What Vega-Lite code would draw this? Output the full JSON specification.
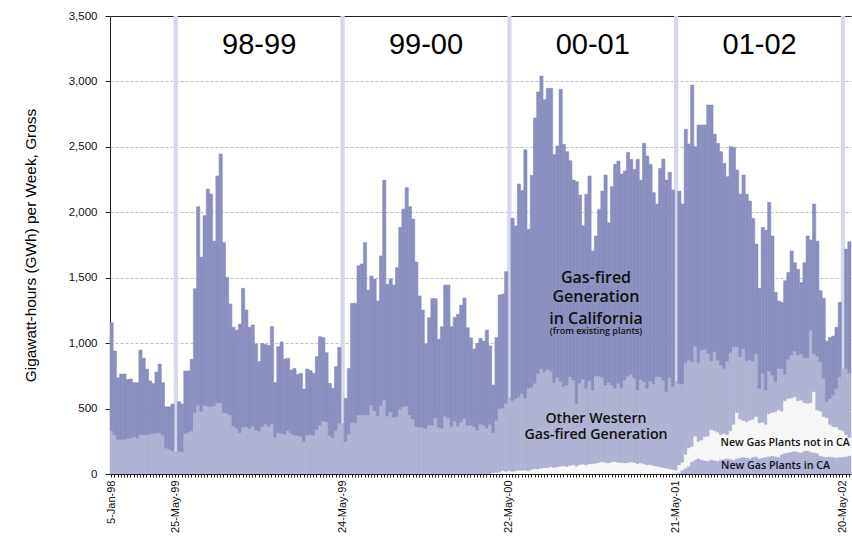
{
"$schema":"https://vega.github.io/schema/vega-lite/v6.json",
"width":741,"height":458,
"autosize":{"type":"none"},
"padding":{"left":110,"top":16,"right":1,"bottom":62},
"background":"#ffffff",
"config":{
 "view":{"stroke":null},
 "font":"Liberation Sans",
 "axis":{"labelFont":"Liberation Sans","titleFont":"Liberation Sans","domainColor":"#222","tickColor":"#222","labelColor":"#111","titleColor":"#000"}
},
"datasets":{
"sep":[{"w":"1998-05-25"},{"w":"1999-05-24"},{"w":"2000-05-22"},{"w":"2001-05-21"},{"w":"2002-05-20"}],
"ann":[
{"g":"yr","w":"1998-11-23","v":3210,"t":"98-99"},
{"g":"yr","w":"1999-11-22","v":3210,"t":"99-00"},
{"g":"yr","w":"2000-11-20","v":3210,"t":"00-01"},
{"g":"yr","w":"2001-11-19","v":3210,"t":"01-02"},
{"g":"big","w":"2000-11-27","v":1457,"t":"Gas-fired"},
{"g":"big","w":"2000-11-27","v":1317,"t":"Generation"},
{"g":"big","w":"2000-11-27","v":1148,"t":"in California"},
{"g":"small","w":"2000-11-27","v":1072,"t":"(from existing plants)"},
{"g":"mid","w":"2000-11-27","v":392,"t":"Other Western"},
{"g":"mid","w":"2000-11-27","v":265,"t":"Gas-fired Generation"},
{"g":"new","w":"2002-01-14","v":214,"t":"New Gas Plants not in CA"},
{"g":"new","w":"2001-12-24","v":38,"t":"New Gas Plants in CA"}
],
"gen":[
{"w":"1998-01-05","c_other":330,"d_ca":826},
{"w":"1998-01-12","c_other":300,"d_ca":640},
{"w":"1998-01-19","c_other":265,"d_ca":471},
{"w":"1998-01-26","c_other":265,"d_ca":499},
{"w":"1998-02-02","c_other":265,"d_ca":499},
{"w":"1998-02-09","c_other":270,"d_ca":451},
{"w":"1998-02-16","c_other":275,"d_ca":451},
{"w":"1998-02-23","c_other":285,"d_ca":413},
{"w":"1998-03-02","c_other":275,"d_ca":423},
{"w":"1998-03-09","c_other":300,"d_ca":647},
{"w":"1998-03-16","c_other":300,"d_ca":584},
{"w":"1998-03-23","c_other":300,"d_ca":502},
{"w":"1998-03-30","c_other":305,"d_ca":406},
{"w":"1998-04-06","c_other":310,"d_ca":380},
{"w":"1998-04-13","c_other":315,"d_ca":464},
{"w":"1998-04-20","c_other":315,"d_ca":525},
{"w":"1998-04-27","c_other":300,"d_ca":398},
{"w":"1998-05-04","c_other":200,"d_ca":314},
{"w":"1998-05-11","c_other":190,"d_ca":324},
{"w":"1998-05-18","c_other":180,"d_ca":355},
{"w":"1998-05-25","c_other":170},
{"w":"1998-06-01","c_other":175,"d_ca":378},
{"w":"1998-06-08","c_other":170,"d_ca":365},
{"w":"1998-06-15","c_other":310,"d_ca":477},
{"w":"1998-06-22","c_other":320,"d_ca":467},
{"w":"1998-06-29","c_other":330,"d_ca":546},
{"w":"1998-07-06","c_other":470,"d_ca":946},
{"w":"1998-07-13","c_other":525,"d_ca":1518},
{"w":"1998-07-20","c_other":480,"d_ca":1178},
{"w":"1998-07-27","c_other":525,"d_ca":1449},
{"w":"1998-08-03","c_other":520,"d_ca":1658},
{"w":"1998-08-10","c_other":515,"d_ca":1624},
{"w":"1998-08-17","c_other":520,"d_ca":1260},
{"w":"1998-08-24","c_other":545,"d_ca":1732},
{"w":"1998-08-31","c_other":545,"d_ca":1900},
{"w":"1998-09-07","c_other":470,"d_ca":1298},
{"w":"1998-09-14","c_other":463,"d_ca":1040},
{"w":"1998-09-21","c_other":450,"d_ca":849},
{"w":"1998-09-28","c_other":367,"d_ca":754},
{"w":"1998-10-05","c_other":349,"d_ca":751},
{"w":"1998-10-12","c_other":316,"d_ca":830},
{"w":"1998-10-19","c_other":357,"d_ca":1062},
{"w":"1998-10-26","c_other":362,"d_ca":891},
{"w":"1998-11-02","c_other":349,"d_ca":772},
{"w":"1998-11-09","c_other":367,"d_ca":772},
{"w":"1998-11-16","c_other":337,"d_ca":656},
{"w":"1998-11-23","c_other":329,"d_ca":531},
{"w":"1998-11-30","c_other":362,"d_ca":636},
{"w":"1998-12-07","c_other":382,"d_ca":608},
{"w":"1998-12-14","c_other":362,"d_ca":621},
{"w":"1998-12-21","c_other":382,"d_ca":744},
{"w":"1998-12-28","c_other":280,"d_ca":418},
{"w":"1999-01-04","c_other":316,"d_ca":657},
{"w":"1999-01-11","c_other":311,"d_ca":698},
{"w":"1999-01-18","c_other":303,"d_ca":576},
{"w":"1999-01-25","c_other":331,"d_ca":553},
{"w":"1999-02-01","c_other":311,"d_ca":484},
{"w":"1999-02-08","c_other":298,"d_ca":509},
{"w":"1999-02-15","c_other":295,"d_ca":467},
{"w":"1999-02-22","c_other":290,"d_ca":479},
{"w":"1999-03-01","c_other":247,"d_ca":402},
{"w":"1999-03-08","c_other":298,"d_ca":504},
{"w":"1999-03-15","c_other":303,"d_ca":487},
{"w":"1999-03-22","c_other":298,"d_ca":471},
{"w":"1999-03-29","c_other":341,"d_ca":556},
{"w":"1999-04-05","c_other":374,"d_ca":675},
{"w":"1999-04-12","c_other":405,"d_ca":637},
{"w":"1999-04-19","c_other":400,"d_ca":527},
{"w":"1999-04-26","c_other":293,"d_ca":400},
{"w":"1999-05-03","c_other":278,"d_ca":377},
{"w":"1999-05-10","c_other":331,"d_ca":489},
{"w":"1999-05-17","c_other":390,"d_ca":578},
{"w":"1999-05-24","c_other":385},
{"w":"1999-05-31","c_other":247,"d_ca":331},
{"w":"1999-06-07","c_other":306,"d_ca":501},
{"w":"1999-06-14","c_other":392,"d_ca":912},
{"w":"1999-06-21","c_other":392,"d_ca":912},
{"w":"1999-06-28","c_other":451,"d_ca":1141},
{"w":"1999-07-05","c_other":451,"d_ca":1154},
{"w":"1999-07-12","c_other":451,"d_ca":1317},
{"w":"1999-07-19","c_other":451,"d_ca":955},
{"w":"1999-07-26","c_other":527,"d_ca":986},
{"w":"1999-08-02","c_other":484,"d_ca":1006},
{"w":"1999-08-09","c_other":443,"d_ca":879},
{"w":"1999-08-16","c_other":520,"d_ca":1146},
{"w":"1999-08-23","c_other":565,"d_ca":1681},
{"w":"1999-08-30","c_other":443,"d_ca":1006},
{"w":"1999-09-06","c_other":476,"d_ca":1014},
{"w":"1999-09-13","c_other":433,"d_ca":1011},
{"w":"1999-09-20","c_other":438,"d_ca":1139},
{"w":"1999-09-27","c_other":494,"d_ca":1391},
{"w":"1999-10-04","c_other":514,"d_ca":1511},
{"w":"1999-10-11","c_other":520,"d_ca":1668},
{"w":"1999-10-18","c_other":451,"d_ca":1592},
{"w":"1999-10-25","c_other":420,"d_ca":1528},
{"w":"1999-11-01","c_other":362,"d_ca":1258},
{"w":"1999-11-08","c_other":357,"d_ca":1003},
{"w":"1999-11-15","c_other":357,"d_ca":896},
{"w":"1999-11-22","c_other":349,"d_ca":644},
{"w":"1999-11-29","c_other":374,"d_ca":821},
{"w":"1999-12-06","c_other":374,"d_ca":966},
{"w":"1999-12-13","c_other":430,"d_ca":910},
{"w":"1999-12-20","c_other":357,"d_ca":673},
{"w":"1999-12-27","c_other":349,"d_ca":777},
{"w":"2000-01-03","c_other":443,"d_ca":1001},
{"w":"2000-01-10","c_other":430,"d_ca":1014},
{"w":"2000-01-17","c_other":362,"d_ca":764},
{"w":"2000-01-24","c_other":405,"d_ca":792},
{"w":"2000-01-31","c_other":367,"d_ca":853},
{"w":"2000-02-07","c_other":395,"d_ca":896},
{"w":"2000-02-14","c_other":425,"d_ca":920},
{"w":"2000-02-21","c_other":374,"d_ca":743},
{"w":"2000-02-28","c_other":374,"d_ca":666},
{"w":"2000-03-06","c_other":362,"d_ca":593},
{"w":"2000-03-13","c_other":336,"d_ca":662},
{"w":"2000-03-20","c_other":382,"d_ca":655},
{"w":"2000-03-27","c_other":374,"d_ca":642},
{"w":"2000-04-03","c_other":350,"d_ca":750},
{"w":"2000-04-10","c_other":380,"d_ca":598},
{"w":"2000-04-17","b_newOut":10,"c_other":306,"d_ca":364},
{"w":"2000-04-24","b_newOut":12,"c_other":398,"d_ca":634},
{"w":"2000-05-01","b_newOut":15,"c_other":483,"d_ca":870},
{"w":"2000-05-08","b_newOut":25,"c_other":480,"d_ca":870},
{"w":"2000-05-15","b_newOut":20,"c_other":520,"d_ca":1006},
{"w":"2000-05-22","b_newOut":25,"c_other":553},
{"w":"2000-05-29","b_newOut":20,"c_other":540,"d_ca":1394},
{"w":"2000-06-05","b_newOut":25,"c_other":550,"d_ca":1320},
{"w":"2000-06-12","b_newOut":30,"c_other":560,"d_ca":1626},
{"w":"2000-06-19","b_newOut":28,"c_other":588,"d_ca":1549},
{"w":"2000-06-26","b_newOut":30,"c_other":548,"d_ca":1900},
{"w":"2000-07-03","b_newOut":25,"c_other":630,"d_ca":1215},
{"w":"2000-07-10","b_newOut":35,"c_other":627,"d_ca":1620},
{"w":"2000-07-17","b_newOut":40,"c_other":653,"d_ca":2027},
{"w":"2000-07-24","b_newOut":38,"c_other":731,"d_ca":2151},
{"w":"2000-07-31","b_newOut":45,"c_other":762,"d_ca":2234},
{"w":"2000-08-07","b_newOut":50,"c_other":732,"d_ca":2078},
{"w":"2000-08-14","b_newOut":48,"c_other":752,"d_ca":2147},
{"w":"2000-08-21","b_newOut":55,"c_other":732,"d_ca":2160},
{"w":"2000-08-28","b_newOut":50,"c_other":648,"d_ca":1742},
{"w":"2000-09-04","b_newOut":55,"c_other":684,"d_ca":1767},
{"w":"2000-09-11","b_newOut":60,"c_other":646,"d_ca":2234},
{"w":"2000-09-18","b_newOut":62,"c_other":605,"d_ca":1852},
{"w":"2000-09-25","b_newOut":58,"c_other":622,"d_ca":1783},
{"w":"2000-10-02","b_newOut":65,"c_other":679,"d_ca":1650},
{"w":"2000-10-09","b_newOut":70,"c_other":648,"d_ca":1528},
{"w":"2000-10-16","b_newOut":60,"c_other":480,"d_ca":1694},
{"w":"2000-10-23","b_newOut":72,"c_other":621,"d_ca":1439},
{"w":"2000-10-30","b_newOut":75,"c_other":648,"d_ca":1175},
{"w":"2000-11-06","b_newOut":70,"c_other":585,"d_ca":1482},
{"w":"2000-11-13","b_newOut":78,"c_other":635,"d_ca":1564},
{"w":"2000-11-20","b_newOut":80,"c_other":562,"d_ca":1062},
{"w":"2000-11-27","b_newOut":82,"c_other":667,"d_ca":1070},
{"w":"2000-12-04","b_newOut":88,"c_other":661,"d_ca":1273},
{"w":"2000-12-11","b_newOut":94,"c_other":646,"d_ca":1422},
{"w":"2000-12-18","b_newOut":90,"c_other":590,"d_ca":1605},
{"w":"2000-12-25","b_newOut":85,"c_other":615,"d_ca":1220},
{"w":"2001-01-01","b_newOut":92,"c_other":588,"d_ca":1516},
{"w":"2001-01-08","b_newOut":95,"c_other":560,"d_ca":1711},
{"w":"2001-01-15","b_newOut":90,"c_other":603,"d_ca":1699},
{"w":"2001-01-22","b_newOut":88,"c_other":572,"d_ca":1632},
{"w":"2001-01-29","b_newOut":85,"c_other":633,"d_ca":1597},
{"w":"2001-02-05","b_newOut":87,"c_other":662,"d_ca":1709},
{"w":"2001-02-12","b_newOut":92,"c_other":670,"d_ca":1642},
{"w":"2001-02-19","b_newOut":88,"c_other":648,"d_ca":1592},
{"w":"2001-02-26","b_newOut":80,"c_other":562,"d_ca":1762},
{"w":"2001-03-05","b_newOut":85,"c_other":638,"d_ca":1523},
{"w":"2001-03-12","b_newOut":78,"c_other":628,"d_ca":1821},
{"w":"2001-03-19","b_newOut":70,"c_other":585,"d_ca":1775},
{"w":"2001-03-26","b_newOut":72,"c_other":638,"d_ca":1656},
{"w":"2001-04-02","b_newOut":65,"c_other":625,"d_ca":1460},
{"w":"2001-04-09","b_newOut":60,"c_other":684,"d_ca":1319},
{"w":"2001-04-16","b_newOut":55,"c_other":689,"d_ca":1592},
{"w":"2001-04-23","b_newOut":50,"c_other":668,"d_ca":1689},
{"w":"2001-04-30","b_newOut":45,"c_other":584,"d_ca":1617},
{"w":"2001-05-07","b_newOut":40,"c_other":699,"d_ca":1566},
{"w":"2001-05-14","b_newOut":35,"c_other":632,"d_ca":1503},
{"w":"2001-05-21","b_newOut":30,"c_other":676},
{"w":"2001-05-28","a_newCA":10,"b_newOut":60,"c_other":623,"d_ca":1469},
{"w":"2001-06-04","a_newCA":30,"b_newOut":60,"c_other":598,"d_ca":1375},
{"w":"2001-06-11","a_newCA":45,"b_newOut":105,"c_other":701,"d_ca":1783},
{"w":"2001-06-18","a_newCA":60,"b_newOut":140,"c_other":676,"d_ca":1646},
{"w":"2001-06-25","a_newCA":95,"b_newOut":115,"c_other":648,"d_ca":2114},
{"w":"2001-07-02","a_newCA":110,"b_newOut":180,"c_other":688,"d_ca":1523},
{"w":"2001-07-09","a_newCA":120,"b_newOut":130,"c_other":601,"d_ca":1816},
{"w":"2001-07-16","a_newCA":110,"b_newOut":150,"c_other":687,"d_ca":1720},
{"w":"2001-07-23","a_newCA":105,"b_newOut":180,"c_other":668,"d_ca":1714},
{"w":"2001-07-30","a_newCA":100,"b_newOut":190,"c_other":632,"d_ca":1898},
{"w":"2001-08-06","a_newCA":110,"b_newOut":230,"c_other":526,"d_ca":1954},
{"w":"2001-08-13","a_newCA":105,"b_newOut":225,"c_other":605,"d_ca":1663},
{"w":"2001-08-20","a_newCA":100,"b_newOut":220,"c_other":551,"d_ca":1656},
{"w":"2001-08-27","a_newCA":110,"b_newOut":190,"c_other":533,"d_ca":1630},
{"w":"2001-09-03","a_newCA":115,"b_newOut":195,"c_other":497,"d_ca":1567},
{"w":"2001-09-10","a_newCA":120,"b_newOut":180,"c_other":563,"d_ca":1409},
{"w":"2001-09-17","a_newCA":115,"b_newOut":215,"c_other":597,"d_ca":1574},
{"w":"2001-09-24","a_newCA":110,"b_newOut":270,"c_other":593,"d_ca":1523},
{"w":"2001-10-01","a_newCA":120,"b_newOut":350,"c_other":503,"d_ca":1350},
{"w":"2001-10-08","a_newCA":125,"b_newOut":295,"c_other":477,"d_ca":1242},
{"w":"2001-10-15","a_newCA":130,"b_newOut":280,"c_other":550,"d_ca":1325},
{"w":"2001-10-22","a_newCA":125,"b_newOut":275,"c_other":466,"d_ca":1271},
{"w":"2001-10-29","a_newCA":120,"b_newOut":290,"c_other":466,"d_ca":1210},
{"w":"2001-11-05","a_newCA":130,"b_newOut":290,"c_other":443,"d_ca":1091},
{"w":"2001-11-12","a_newCA":135,"b_newOut":305,"c_other":480,"d_ca":837},
{"w":"2001-11-19","a_newCA":120,"b_newOut":270,"c_other":265,"d_ca":764},
{"w":"2001-11-26","a_newCA":125,"b_newOut":270,"c_other":374,"d_ca":1116},
{"w":"2001-12-03","a_newCA":130,"b_newOut":250,"c_other":262,"d_ca":1222},
{"w":"2001-12-10","a_newCA":135,"b_newOut":325,"c_other":327,"d_ca":1289},
{"w":"2001-12-17","a_newCA":140,"b_newOut":330,"c_other":286,"d_ca":1063},
{"w":"2001-12-24","a_newCA":135,"b_newOut":340,"c_other":231,"d_ca":682},
{"w":"2001-12-31","a_newCA":130,"b_newOut":360,"c_other":317,"d_ca":515},
{"w":"2002-01-07","a_newCA":150,"b_newOut":330,"c_other":327,"d_ca":505},
{"w":"2002-01-14","a_newCA":160,"b_newOut":400,"c_other":200,"d_ca":717},
{"w":"2002-01-21","a_newCA":165,"b_newOut":410,"c_other":301,"d_ca":665},
{"w":"2002-01-28","a_newCA":170,"b_newOut":410,"c_other":329,"d_ca":795},
{"w":"2002-02-04","a_newCA":175,"b_newOut":415,"c_other":350,"d_ca":675},
{"w":"2002-02-11","a_newCA":170,"b_newOut":390,"c_other":349,"d_ca":655},
{"w":"2002-02-18","a_newCA":165,"b_newOut":400,"c_other":355,"d_ca":542},
{"w":"2002-02-25","a_newCA":175,"b_newOut":370,"c_other":345,"d_ca":725},
{"w":"2002-03-04","a_newCA":180,"b_newOut":360,"c_other":350,"d_ca":929},
{"w":"2002-03-11","a_newCA":170,"b_newOut":375,"c_other":555,"d_ca":688},
{"w":"2002-03-18","a_newCA":165,"b_newOut":465,"c_other":292,"d_ca":1141},
{"w":"2002-03-25","a_newCA":160,"b_newOut":330,"c_other":410,"d_ca":880},
{"w":"2002-04-01","a_newCA":140,"b_newOut":340,"c_other":378,"d_ca":543},
{"w":"2002-04-08","a_newCA":135,"b_newOut":305,"c_other":291,"d_ca":611},
{"w":"2002-04-15","a_newCA":130,"b_newOut":300,"c_other":123,"d_ca":463},
{"w":"2002-04-22","a_newCA":135,"b_newOut":245,"c_other":198,"d_ca":466},
{"w":"2002-04-29","a_newCA":130,"b_newOut":230,"c_other":244,"d_ca":450},
{"w":"2002-05-06","a_newCA":125,"b_newOut":235,"c_other":295,"d_ca":466},
{"w":"2002-05-13","a_newCA":130,"b_newOut":210,"c_other":404,"d_ca":568},
{"w":"2002-05-20","a_newCA":130,"b_newOut":200,"c_other":477},
{"w":"2002-05-27","a_newCA":135,"b_newOut":165,"c_other":507,"d_ca":912},
{"w":"2002-06-03","a_newCA":140,"b_newOut":140,"c_other":489,"d_ca":1006}
]
},
"encoding":{
 "x":{"field":"w","type":"ordinal","scale":{"paddingInner":0,"paddingOuter":0},
  "axis":{"title":null,"labelAngle":270,"labelFontSize":11,"labelOverlap":false,"tickSize":3,"labelPadding":3,"grid":false,"zindex":1,
   "labelExpr":"datum.value=='1998-01-05'?'5-Jan-98':datum.value=='1998-05-25'?'25-May-99':datum.value=='1999-05-24'?'24-May-99':datum.value=='2000-05-22'?'22-May-00':datum.value=='2001-05-21'?'21-May-01':datum.value=='2002-05-20'?'20-May-02':''"}}
},
"layer":[
 {"data":{"name":"sep"},
  "mark":{"type":"bar","color":"#d6d8eb","width":{"band":1.35}},
  "encoding":{
   "y":{"datum":3500,"type":"quantitative"},
   "y2":{"datum":0}}},
 {"data":{"name":"gen"},
  "transform":[{"fold":["a_newCA","b_newOut","c_other","d_ca"],"as":["s","v"]},{"filter":"isValid(datum.v)"}],
  "mark":{"type":"bar","strokeWidth":0.6},
  "encoding":{
   "y":{"field":"v","type":"quantitative","stack":"zero","scale":{"domain":[0,3500],"nice":false},
    "axis":{"title":"Gigawatt-hours (GWh) per Week, Gross","values":[0,500,1000,1500,2000,2500,3000,3500],
     "labelExpr":"format(datum.value, ',')","grid":true,
     "gridColor":{"condition":{"test":"datum.value>=3500","value":"#222"},"value":"#b9bcdf"},
     "gridDash":{"condition":{"test":"datum.value>=3500","value":[]},"value":[3,2]},
     "gridWidth":1,"tickSize":5,"labelPadding":8,"labelFontSize":11.5,"titleFontSize":15.4,"titleFontWeight":"normal","titlePadding":30}},
   "color":{"field":"s","type":"nominal","scale":{"domain":["a_newCA","b_newOut","c_other","d_ca"],"range":["#afb2d3","#f7f7f7","#afb2d3","#8a8fbf"]},"legend":null},
   "stroke":{"field":"s","type":"nominal","scale":{"domain":["a_newCA","b_newOut","c_other","d_ca"],"range":["#afb2d3","#f7f7f7","#afb2d3","#8a8fbf"]},"legend":null},
   "order":{"field":"s","type":"ordinal","sort":"ascending"}}},
 {"data":{"name":"ann"},"transform":[{"filter":"datum.g=='yr'"}],
  "mark":{"type":"text","font":"Liberation Sans","fontSize":29,"align":"center","baseline":"alphabetic","color":"#000"},
  "encoding":{"y":{"field":"v","type":"quantitative"},"text":{"field":"t"}}},
 {"data":{"name":"ann"},"transform":[{"filter":"datum.g=='big'"}],
  "mark":{"type":"text","font":"Open Sans","fontSize":16,"fontWeight":600,"align":"center","baseline":"alphabetic","color":"#111"},
  "encoding":{"y":{"field":"v","type":"quantitative"},"text":{"field":"t"}}},
 {"data":{"name":"ann"},"transform":[{"filter":"datum.g=='mid'"}],
  "mark":{"type":"text","font":"Open Sans","fontSize":14.2,"fontWeight":600,"align":"center","baseline":"alphabetic","color":"#111"},
  "encoding":{"y":{"field":"v","type":"quantitative"},"text":{"field":"t"}}},
 {"data":{"name":"ann"},"transform":[{"filter":"datum.g=='small'"}],
  "mark":{"type":"text","font":"Open Sans","fontSize":9,"fontWeight":600,"align":"center","baseline":"alphabetic","color":"#111"},
  "encoding":{"y":{"field":"v","type":"quantitative"},"text":{"field":"t"}}},
 {"data":{"name":"ann"},"transform":[{"filter":"datum.g=='new'"}],
  "mark":{"type":"text","font":"Open Sans","fontSize":10.7,"fontWeight":600,"align":"center","baseline":"alphabetic","color":"#111"},
  "encoding":{"y":{"field":"v","type":"quantitative"},"text":{"field":"t"}}}
]
}
